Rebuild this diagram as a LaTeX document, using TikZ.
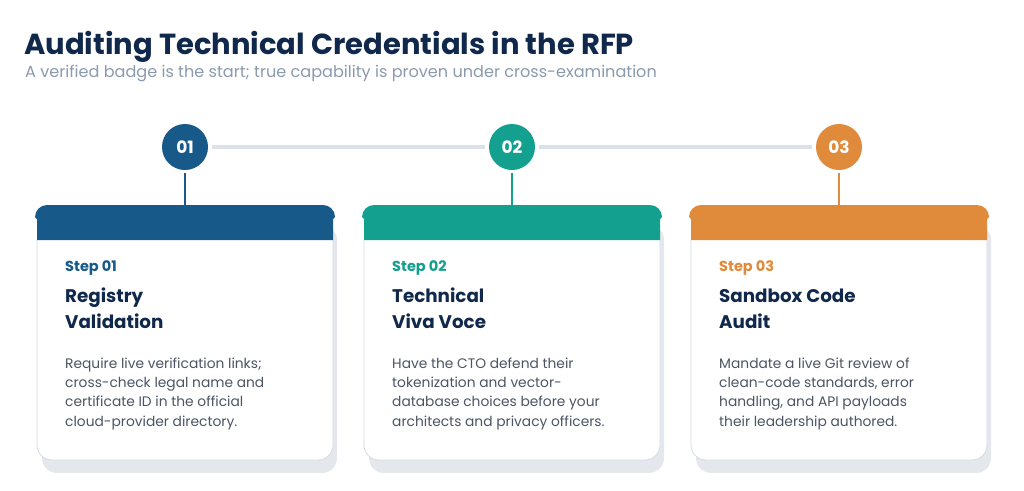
\documentclass[tikz,border=0pt]{standalone}
\usepackage{fontspec}
\setmainfont{Poppins}
\usetikzlibrary{positioning}

\definecolor{navy}{HTML}{10284B}
\definecolor{subgray}{HTML}{8C9AAE}
\definecolor{bodygray}{HTML}{4B5563}
\definecolor{trackgray}{HTML}{DCE2EA}
\definecolor{shadowgray}{HTML}{E4E8ED}
\definecolor{edgegray}{HTML}{D4DBE4}
\definecolor{stepblue}{HTML}{175A8A}
\definecolor{stepteal}{HTML}{14A08F}
\definecolor{steporange}{HTML}{E08A3C}

\tikzset{
  badge/.style={circle, fill=#1, minimum size=46pt, inner sep=0pt,
    text=white, font=\fontsize{17}{17}\selectfont\bfseries},
  stem/.style={#1, line width=2.2pt},
  track/.style={trackgray, line width=4pt},
  steplabel/.style={anchor=base west, inner sep=0pt, text=#1,
    font=\fontsize{14.5}{14.5}\selectfont\bfseries},
  steptitle/.style={anchor=base west, inner sep=0pt, text=navy, align=left,
    font=\fontsize{18.3}{26}\selectfont\bfseries},
  stepbody/.style={anchor=base west, inner sep=0pt, text=bodygray, align=left,
    font=\fontsize{13.8}{19.3}\selectfont}
}

\begin{document}
\begin{tikzpicture}[x=1pt, y=-1pt]
  \useasboundingbox[fill=white] (0,0) rectangle (1024,490);

  % Heading
  \node[anchor=base west, inner sep=0pt, text=navy,
    font=\fontsize{29}{29}\selectfont\bfseries] (title) at (24,54)
    {Auditing Technical Credentials in the RFP};
  \node[anchor=base west, inner sep=0pt, text=subgray,
    font=\fontsize{16.1}{16.1}\selectfont] (subtitle) at (25,77)
    {A verified badge is the start; true capability is proven under cross-examination};

  % Cards: shadow, body, header
  \foreach \x/\col in {37/stepblue, 364/stepteal, 691/steporange} {
    \fill[shadowgray, rounded corners=15pt] (\x+5,225) rectangle (\x+300,473);
    \draw[edgegray, fill=white, line width=0.8pt] (\x,240) -- (\x,446)
      [rounded corners=15pt] -- (\x,460) -- (\x+296,460) [sharp corners] -- (\x+296,446) -- (\x+296,240);
    \fill[\col] (\x,240) -- (\x,219) -- (\x-2,217) [rounded corners=12pt] -- (\x-2,205)
      -- (\x+298,205) [sharp corners] -- (\x+298,217) -- (\x+296,219) -- (\x+296,240) -- cycle;
  }

  \coordinate (h1) at (185,205);
  \coordinate (h2) at (512,205);
  \coordinate (h3) at (839,205);

  % Badges
  \node[badge=stepblue]   (n1) at (185,147) {01};
  \node[badge=stepteal]   (n2) at (512,147) {02};
  \node[badge=steporange] (n3) at (839,147) {03};

  % Connectors
  \draw[track] ([xshift=4pt]n1.east) -- ([xshift=-4pt]n2.west);
  \draw[track] ([xshift=4pt]n2.east) -- ([xshift=-4pt]n3.west);
  \draw[stem=stepblue]   ([yshift=-3pt]n1.south) -- (h1);
  \draw[stem=stepteal]   ([yshift=-3pt]n2.south) -- (h2);
  \draw[stem=steporange] ([yshift=-3pt]n3.south) -- (h3);

  % Step 01
  \node[steplabel=stepblue] (s1) at (65,271) {Step 01};
  \node[steptitle] (t1) at (65,328) {Registry\\Validation};
  \node[stepbody] (b1) at (65,426) {Require live verification links;\\cross-check legal name and\\certificate ID in the official\\cloud-provider directory.};

  % Step 02
  \node[steplabel=stepteal] (s2) at (392,271) {Step 02};
  \node[steptitle] (t2) at (392,328) {Technical\\Viva Voce};
  \node[stepbody] (b2) at (392,426) {Have the CTO defend their\\tokenization and vector-\\database choices before your\\architects and privacy officers.};

  % Step 03
  \node[steplabel=steporange] (s3) at (719,271) {Step 03};
  \node[steptitle] (t3) at (719,328) {Sandbox Code\\Audit};
  \node[stepbody] (b3) at (719,426) {Mandate a live Git review of\\clean-code standards, error\\handling, and API payloads\\their leadership authored.};
\end{tikzpicture}
\end{document}
